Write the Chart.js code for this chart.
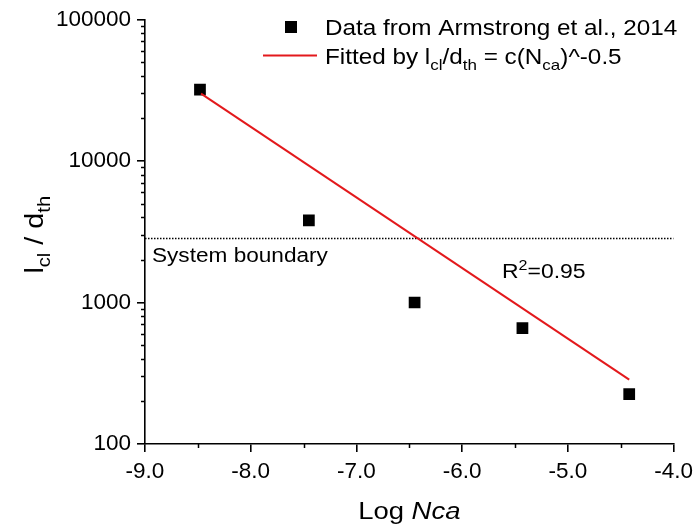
<!DOCTYPE html>
<html><head><meta charset="utf-8">
<script src="https://cdn.jsdelivr.net/npm/chart.js@4/dist/chart.umd.min.js"></script>
<style>html,body{margin:0;padding:0;background:#fff}</style>
</head><body>
<canvas id="c" width="699" height="528"></canvas>
<script>
// ---- data ----
const xData = [-8.48, -7.45, -6.45, -5.43, -4.42];
const yData = [32000, 3800, 1000, 660, 225];
const fitX = [-8.47, -4.42];
const fitY = [29900, 285];
const boundaryX = [-9, -4];
const boundaryY = [2830, 2830];
const xTicks = [-9, -8, -7, -6, -5, -4];
const xMinorTicks = [-8.5, -7.5, -6.5, -5.5, -4.5];
const yTicks = [100, 1000, 10000, 100000];
const yMinorMult = [2, 3, 4, 5, 6, 7, 8, 9];

const FONT = '"Liberation Sans", Arial, sans-serif';

function drawRich(ctx, x, y, parts, opts) {
  const size = opts.size, sx = opts.sx || 1;
  let w = 0;
  const segs = parts.map(p => {
    const s = (p.sub || p.sup) ? size * 0.7 : size;
    const f = (p.italic ? 'italic ' : '') + s + 'px ' + FONT;
    ctx.font = f;
    const mw = ctx.measureText(p.t).width;
    const dy = p.sub ? size * 0.28 : (p.sup ? -size * 0.4 : 0);
    w += mw;
    return {t: p.t, f, mw, dy};
  });
  ctx.save();
  ctx.translate(x, y);
  if (opts.rotate) ctx.rotate(opts.rotate);
  ctx.scale(sx, 1);
  let cx = opts.align === 'center' ? -w / 2 : 0;
  ctx.fillStyle = '#000';
  ctx.textBaseline = 'alphabetic';
  ctx.textAlign = 'left';
  segs.forEach(s => { ctx.font = s.f; ctx.fillText(s.t, cx, s.dy); cx += s.mw; });
  ctx.restore();
}

const decor = {
  id: 'decor',
  afterDraw(chart) {
    const ctx = chart.ctx;
    const xs = chart.scales.x, ys = chart.scales.y;
    const ca = chart.chartArea;
    ctx.save();
    ctx.strokeStyle = '#000';
    ctx.lineWidth = 1.5;
    // minor ticks
    ctx.beginPath();
    xMinorTicks.forEach(v => {
      const px = Math.round(xs.getPixelForValue(v)) + 0.5;
      ctx.moveTo(px, ca.bottom); ctx.lineTo(px, ca.bottom + 4);
    });
    for (let i = 0; i < yTicks.length - 1; i++) {
      yMinorMult.forEach(m => {
        const py = Math.round(ys.getPixelForValue(yTicks[i] * m)) + 0.5;
        ctx.moveTo(ca.left - 4, py); ctx.lineTo(ca.left, py);
      });
    }
    ctx.stroke();
    ctx.restore();

    // legend
    ctx.save();
    ctx.fillStyle = '#000';
    ctx.fillRect(285, 21, 12, 12);
    ctx.strokeStyle = '#e3191c';
    ctx.lineWidth = 2;
    ctx.beginPath(); ctx.moveTo(263, 55.5); ctx.lineTo(317, 55.5); ctx.stroke();
    ctx.restore();
    const SX = 1.14;
    drawRich(ctx, 325, 35, [{t: 'Data from Armstrong et al., 2014'}], {size: 21.3, sx: SX});
    drawRich(ctx, 325, 64, [
      {t: 'Fitted by l'}, {t: 'cl', sub: 1}, {t: '/d'}, {t: 'th', sub: 1},
      {t: ' = c(N'}, {t: 'ca', sub: 1}, {t: ')^-0.5'}
    ], {size: 21.3, sx: SX});

    // annotations
    const by = ys.getPixelForValue(boundaryY[0]);
    drawRich(ctx, ca.left + 7, by + 23, [{t: 'System boundary'}], {size: 20, sx: 1.13});
    drawRich(ctx, 502, 278, [{t: 'R'}, {t: '2', sup: 1}, {t: '=0.95'}], {size: 20.5, sx: 1.12});

    // axis titles
    drawRich(ctx, (ca.left + ca.right) / 2, 519, [{t: 'Log '}, {t: 'Nca', italic: 1}], {size: 24.5, sx: 1.12, align: 'center'});
    drawRich(ctx, 43, (ca.top + ca.bottom) / 2 + 3, [
      {t: 'l'}, {t: 'cl', sub: 1}, {t: ' / d'}, {t: 'th', sub: 1}
    ], {size: 25, sx: 1.15, align: 'center', rotate: -Math.PI / 2});
  }
};

new Chart(document.getElementById('c'), {
  type: 'scatter',
  data: {
    datasets: [
      {
        label: 'Data from Armstrong et al., 2014',
        data: xData.map((x, i) => ({x, y: yData[i]})),
        pointStyle: 'rect', pointRadius: 8.3, pointHoverRadius: 8.3,
        backgroundColor: '#000', borderColor: '#000', borderWidth: 0,
        order: 1
      },
      {
        label: 'Fit',
        type: 'line',
        data: fitX.map((x, i) => ({x, y: fitY[i]})),
        borderColor: '#e3191c', borderWidth: 2, pointRadius: 0, fill: false,
        order: 0
      },
      {
        label: 'System boundary',
        type: 'line',
        data: boundaryX.map((x, i) => ({x, y: boundaryY[i]})),
        borderColor: '#000', borderWidth: 1.5, borderDash: [1.5, 1.5],
        pointRadius: 0, fill: false, order: 2
      }
    ]
  },
  options: {
    responsive: false,
    animation: false,
    events: [],
    layout: {padding: {top: 16, right: 22, left: 0, bottom: 0}},
    plugins: {legend: {display: false}, tooltip: {enabled: false}},
    scales: {
      x: {
        type: 'linear', min: -9, max: -4,
        afterBuildTicks: s => { s.ticks = xTicks.map(v => ({value: v})); },
        afterFit: s => { s.height = 84; },
        ticks: {
          color: '#000', padding: 6, maxRotation: 0,
          font: {family: FONT, size: 22.5},
          callback: v => Number(v).toFixed(1)
        },
        grid: {drawOnChartArea: false, drawTicks: true, tickLength: 8, color: '#000', lineWidth: 1.6},
        border: {display: true, color: '#000', width: 1.6}
      },
      y: {
        type: 'logarithmic', min: 100, max: 100000,
        afterBuildTicks: s => { s.ticks = yTicks.map(v => ({value: v})); },
        afterFit: s => { s.width = 145; },
        ticks: {
          color: '#000', padding: 6,
          font: {family: FONT, size: 22.5},
          callback: v => String(v)
        },
        grid: {drawOnChartArea: false, drawTicks: true, tickLength: 8, color: '#000', lineWidth: 1.6},
        border: {display: true, color: '#000', width: 1.6}
      }
    }
  },
  plugins: [decor]
});
</script>
</body></html>
